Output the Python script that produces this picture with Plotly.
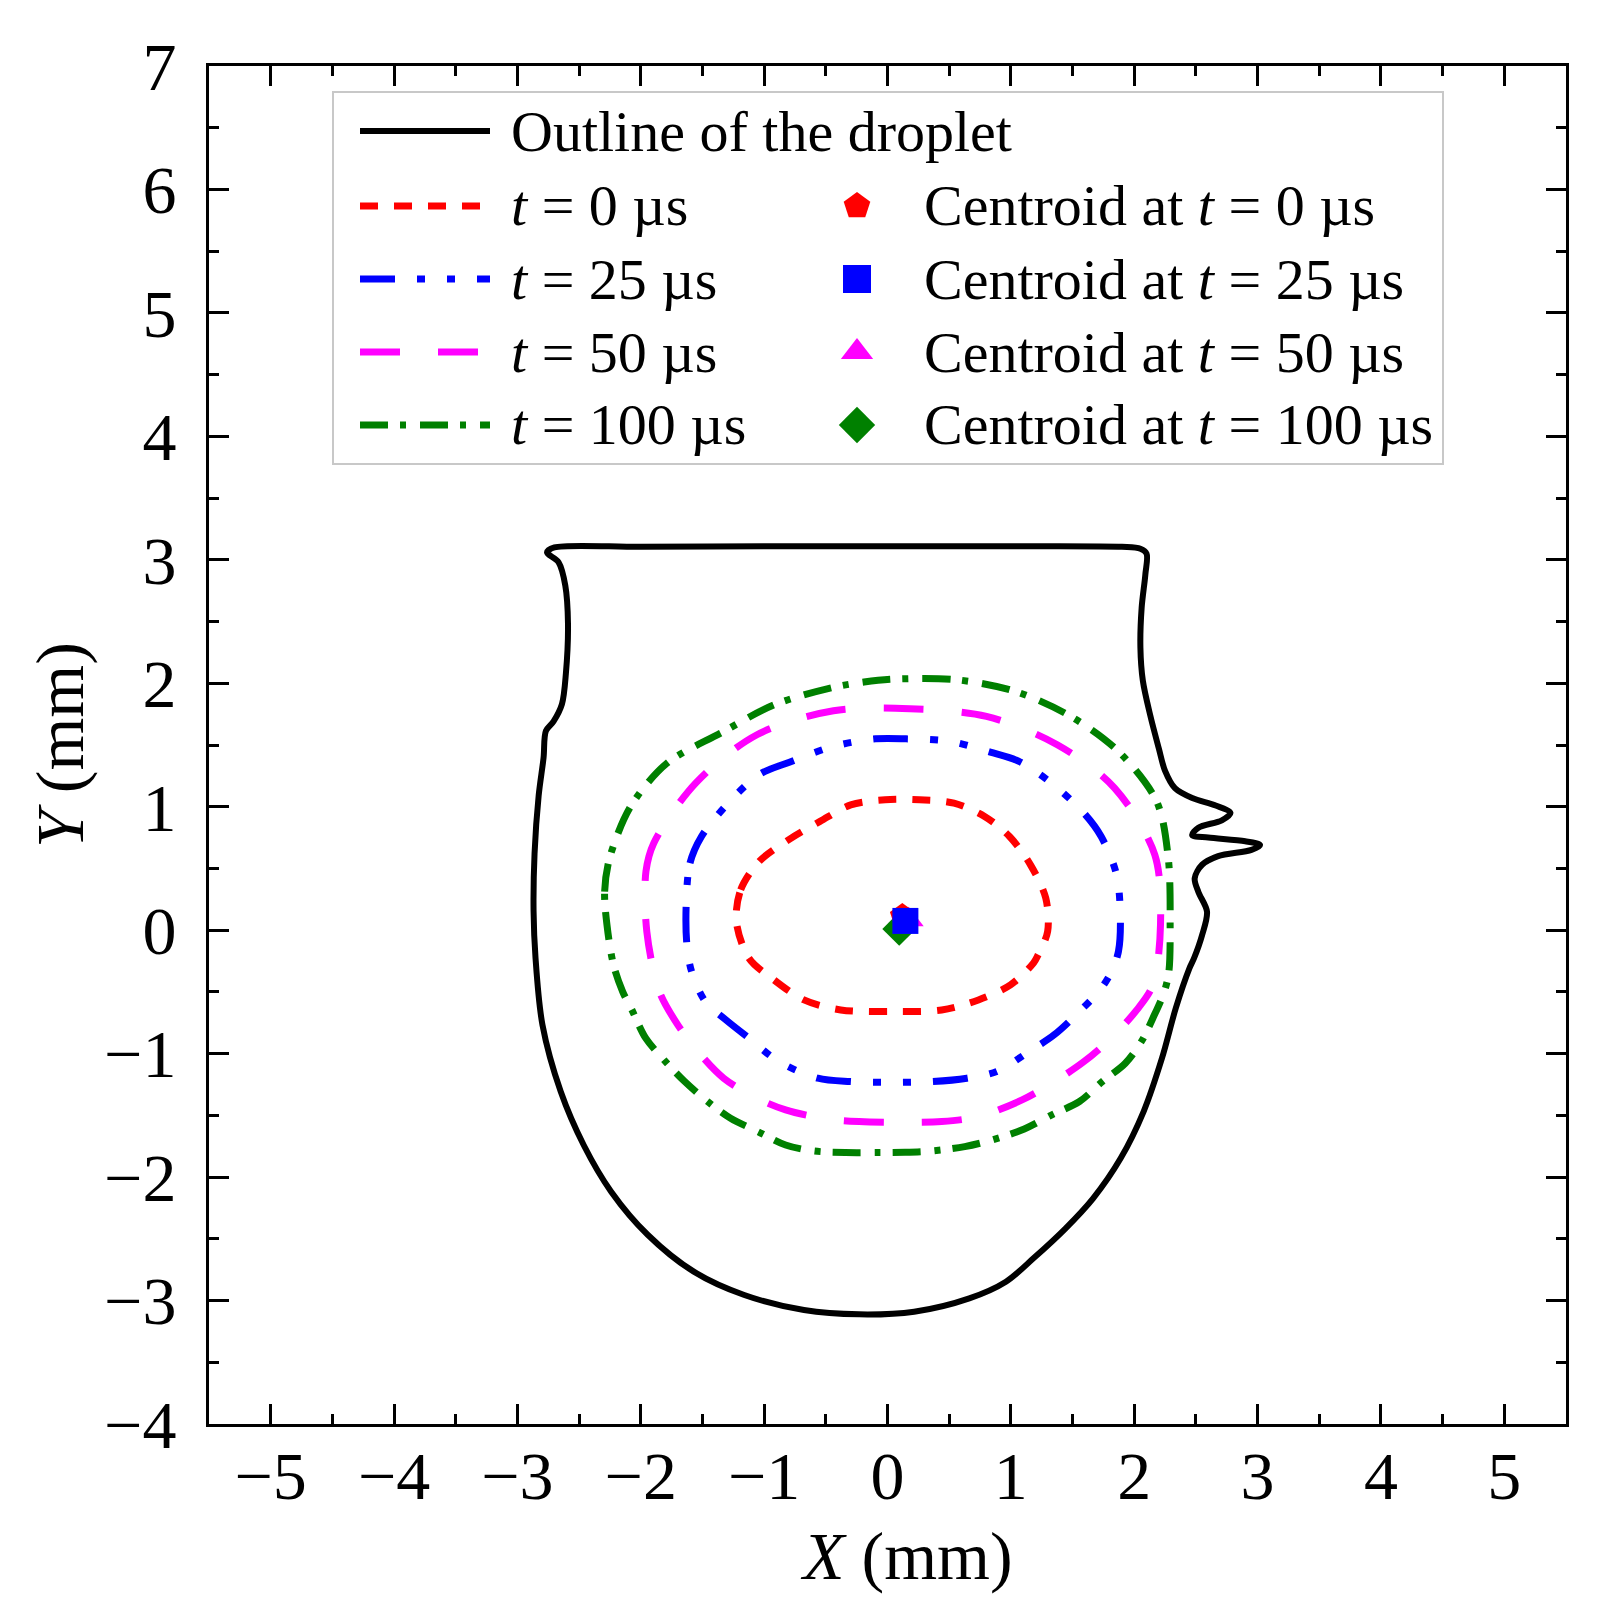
import plotly.graph_objects as go

# droplet outline (mm)
outline_x = [-2.76, -2.70, -2.00, -1.00, 0.00, 1.00, 1.90, 2.05, 2.10,
             2.09, 2.06, 2.05, 2.07, 2.13, 2.20, 2.25, 2.33, 2.47, 2.66, 2.78,
             2.71, 2.52, 2.47, 2.60, 2.90, 3.02, 2.95, 2.68, 2.55, 2.49, 2.52,
             2.59, 2.55, 2.485, 2.448, 2.337, 2.225, 2.076, 1.890, 1.667, 1.444,
             1.183, 0.960, 0.663, 0.216, -0.230, -0.677, -1.161, -1.570, -1.942,
             -2.240, -2.463, -2.649, -2.797, -2.853, -2.869, -2.861, -2.828,
             -2.788, -2.769, -2.707, -2.639, -2.607, -2.590, -2.612, -2.666, -2.76]
outline_y = [3.06, 3.10, 3.105, 3.11, 3.11, 3.11, 3.105, 3.09, 3.05,
             2.88, 2.61, 2.29, 2.02, 1.74, 1.47, 1.29, 1.15, 1.07, 1.01, 0.95,
             0.89, 0.83, 0.77, 0.75, 0.72, 0.69, 0.65, 0.60, 0.53, 0.42, 0.31,
             0.15, -0.04, -0.227, -0.308, -0.632, -1.037, -1.469, -1.848, -2.172,
             -2.415, -2.658, -2.847, -2.982, -3.090, -3.112, -3.077, -2.955,
             -2.766, -2.469, -2.118, -1.740, -1.307, -0.767, -0.227, 0.156,
             0.622, 1.087, 1.397, 1.614, 1.691, 1.831, 2.079, 2.482, 2.793,
             2.979, 3.06]

# t = 0 us
t0_x = [-1.225, -1.190, -1.040, -0.790, -0.547, -0.298, -0.019, 0.259, 0.539,
        0.787, 0.989, 1.159, 1.283, 1.298, 1.221, 1.183, 0.997, 0.737, 0.439,
        0.030, -0.379, -0.677, -0.938, -1.123, -1.225]
t0_y = [0.070, 0.327, 0.557, 0.740, 0.881, 1.015, 1.056, 1.056, 1.029,
        0.921, 0.759, 0.529, 0.259, -0.011, -0.200, -0.267, -0.443, -0.565,
        -0.646, -0.659, -0.646, -0.565, -0.389, -0.227, 0.070]

# t = 25 us
t25_x = [-1.632, -1.601, -1.508, -1.291, -1.043, -0.795, -0.438, -0.097, 0.151,
         0.507, 0.833, 1.066, 1.330, 1.593, 1.732, 1.857, 1.888, 1.872, 1.816,
         1.723, 1.556, 1.351, 1.147, 0.886, 0.644, 0.365, 0.030, -0.305, -0.565,
         -0.882, -1.123, -1.310, -1.477, -1.588, -1.626, -1.632]
t25_y = [0.205, 0.543, 0.759, 1.029, 1.259, 1.361, 1.489, 1.550, 1.550,
         1.529, 1.442, 1.367, 1.191, 0.948, 0.759, 0.448, 0.083, -0.173, -0.335,
         -0.484, -0.659, -0.848, -0.983, -1.145, -1.199, -1.226, -1.232, -1.226,
         -1.199, -1.064, -0.875, -0.727, -0.578, -0.335, -0.119, 0.205]

# t = 50 us
t50_x = [-1.951, -1.958, -1.895, -1.555, -1.058, -0.438, 0.182, 0.802, 1.376,
         1.841, 2.167, 2.213, 2.151, 2.021, 1.797, 1.593, 1.332, 1.091, 0.737,
         0.439, 0.142, -0.230, -0.491, -0.826, -1.086, -1.328, -1.514, -1.700,
         -1.849, -1.951]
t50_y = [-0.011, 0.476, 0.705, 1.191, 1.583, 1.777, 1.793, 1.732, 1.502,
         1.151, 0.610, 0.043, -0.443, -0.646, -0.889, -1.064, -1.240, -1.375,
         -1.510, -1.550, -1.556, -1.550, -1.529, -1.456, -1.348, -1.199, -1.010,
         -0.767, -0.497, -0.011]

# t = 100 us
t100_x = [-2.274, -2.293, -2.253, -2.082, -1.787, -1.353, -0.919, -0.438, -0.190,
          0.058, 0.554, 1.035, 1.485, 1.872, 2.182, 2.276, 2.291, 2.281, 2.244,
          2.151, 2.058, 1.928, 1.742, 1.556, 1.332, 1.109, 0.849, 0.626, 0.365,
          0.142, -0.082, -0.342, -0.602, -0.826, -1.049, -1.272, -1.458, -1.644,
          -1.812, -1.960, -2.072, -2.147, -2.221, -2.274]
t100_y = [0.043, 0.313, 0.583, 1.002, 1.353, 1.596, 1.826, 1.967, 2.010,
          2.034, 2.029, 1.934, 1.732, 1.448, 1.043, 0.583, 0.043, -0.335, -0.497,
          -0.713, -0.902, -1.078, -1.226, -1.388, -1.496, -1.610, -1.699, -1.753,
          -1.788, -1.799, -1.801, -1.801, -1.788, -1.740, -1.632, -1.524, -1.388,
          -1.226, -1.051, -0.875, -0.646, -0.497, -0.281, 0.043]

# centroids (mm)
centroid_x = {"0": 0.120, "25": 0.145, "50": 0.172, "100": 0.095}
centroid_y = {"0": 0.115, "25": 0.075, "50": 0.085, "100": 0.010}

series = [
    # key, x, y, colour, dash, marker symbol
    ("0", t0_x, t0_y, "#ff0000", "18px,16px", "pentagon"),
    ("25", t25_x, t25_y, "#0000ff", "35px,22px,8px,22px,8px,22px", "square"),
    ("50", t50_x, t50_y, "#ff00ff", "40px,38px", "triangle-up"),
    ("100", t100_x, t100_y, "#008000", "28px,12px,6px,14px", "diamond"),
]

FONT = "Liberation Serif"
W, H = 1598, 1615
L, R, T, B = 201, 1558, 58, 1416  # plot area in pixels


def px(x):
    return (x - L) / (R - L)


def py(y):
    return (B - y) / (B - T)


fig = go.Figure()

fig.add_trace(go.Scatter(x=outline_x, y=outline_y, mode="lines",
                         line=dict(color="black", width=6, shape="spline", smoothing=0.9),
                         showlegend=False))
for key, xs, ys, col, dash, sym in series:
    fig.add_trace(go.Scatter(x=xs, y=ys, mode="lines",
                             line=dict(color=col, width=7, dash=dash, shape="spline", smoothing=0.9),
                             showlegend=False))

for key in ["100", "50", "0", "25"]:
    s = [v for v in series if v[0] == key][0]
    fig.add_trace(go.Scatter(x=[centroid_x[key]], y=[centroid_y[key]], mode="markers",
                             marker=dict(symbol=s[5], color=s[3], size=26, line=dict(width=0)),
                             showlegend=False))

# hand-built legend on an overlay axis (0..1 over the plot area)
rows = [123, 198, 271, 344, 417]
legend_items = [("black", "solid", "Outline of the droplet")] + \
    [(s[3], s[4], f"<i>t</i> = {s[0]} µs") for s in series]
for (col, dash, label), ry in zip(legend_items, rows):
    fig.add_trace(go.Scatter(x=[px(352), px(482)], y=[py(ry), py(ry)], mode="lines",
                             line=dict(color=col, width=7 if col != "black" else 6, dash=dash),
                             xaxis="x2", yaxis="y2", showlegend=False, hoverinfo="skip"))
    fig.add_annotation(x=px(501), y=py(ry), xref="paper", yref="paper", text=label,
                       showarrow=False, xanchor="left", yanchor="middle",
                       font=dict(family=FONT, size=58, color="black"))
for s, ry in zip(series, rows[1:]):
    fig.add_trace(go.Scatter(x=[px(849)], y=[py(ry)], mode="markers",
                             marker=dict(symbol=s[5], color=s[3], size=28, line=dict(width=0)),
                             xaxis="x2", yaxis="y2", showlegend=False, hoverinfo="skip"))
    fig.add_annotation(x=px(914), y=py(ry), xref="paper", yref="paper",
                       text=f"Centroid at <i>t</i> = {s[0]} µs",
                       showarrow=False, xanchor="left", yanchor="middle",
                       font=dict(family=FONT, size=58, color="black"))

fig.add_shape(type="rect", xref="paper", yref="paper",
              x0=px(325), x1=px(1435), y0=py(456), y1=py(84),
              line=dict(color="#c8c8c8", width=2), fillcolor="rgba(0,0,0,0)")

# axis titles
fig.add_annotation(x=px(898), y=py(1548), xref="paper", yref="paper", text="<i>X</i> (mm)",
                   showarrow=False, xanchor="center", yanchor="middle",
                   font=dict(family=FONT, size=68, color="black"))
fig.add_annotation(x=px(52), y=0.5, xref="paper", yref="paper", text="<i>Y</i> (mm)",
                   showarrow=False, xanchor="center", yanchor="middle", textangle=-90,
                   font=dict(family=FONT, size=68, color="black"))

axis_common = dict(ticks="inside", ticklen=20, tickwidth=3, tickcolor="black",
                   showline=True, linecolor="black", linewidth=3, mirror="ticks",
                   showgrid=False, zeroline=False, dtick=1, tick0=0,
                   tickfont=dict(family=FONT, size=68, color="black"),
                   minor=dict(ticks="inside", ticklen=10, tickwidth=3, tickcolor="black", dtick=0.5))

fig.update_layout(
    width=W, height=H,
    margin=dict(l=L, r=W - R, t=T, b=H - B),
    plot_bgcolor="white", paper_bgcolor="white",
    xaxis=dict(range=[-5.5, 5.5], ticklabelstandoff=-10, **axis_common),
    yaxis=dict(range=[-4, 7], ticklabelstandoff=16, **axis_common),
    xaxis2=dict(range=[0, 1], overlaying="x", visible=False),
    yaxis2=dict(range=[0, 1], overlaying="y", visible=False),
    showlegend=False,
)

fig.write_html("out.html")
